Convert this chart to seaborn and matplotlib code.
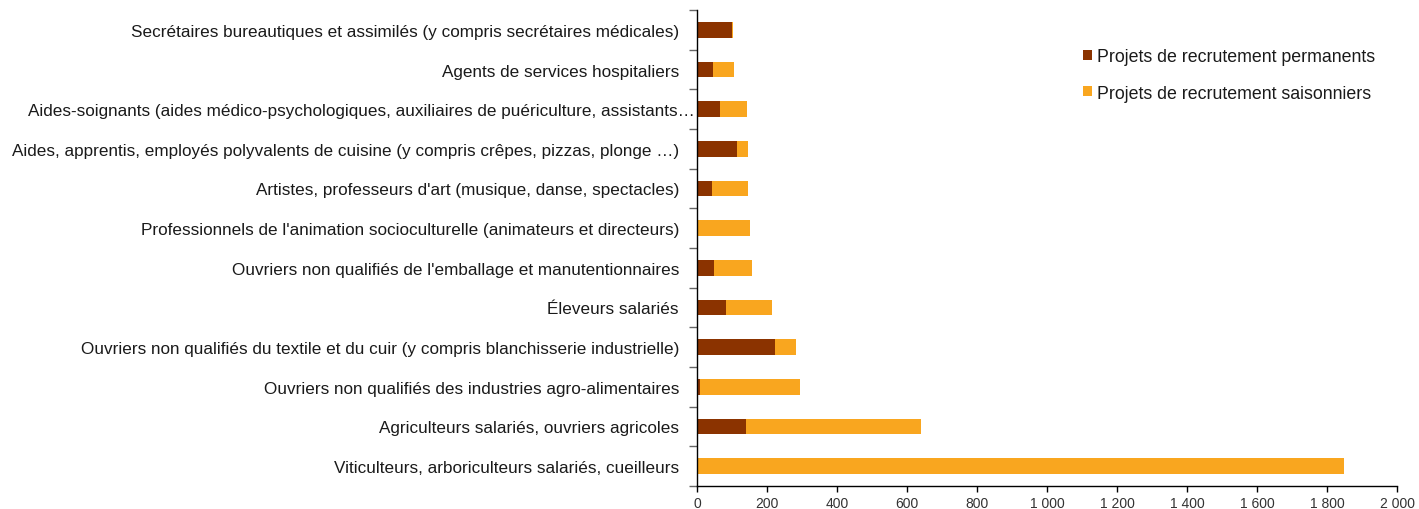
import matplotlib
matplotlib.use("Agg")
import matplotlib.pyplot as plt
import matplotlib.ticker as mticker
import matplotlib.transforms as mtransforms
from matplotlib.patches import Patch
import seaborn as sns
import pandas as pd
import numpy as np

categories = [
    "Secrétaires bureautiques et assimilés (y compris secrétaires médicales)",
    "Agents de services hospitaliers",
    "Aides-soignants (aides médico-psychologiques, auxiliaires de puériculture, assistants…",
    "Aides, apprentis, employés polyvalents de cuisine (y compris crêpes, pizzas, plonge …)",
    "Artistes, professeurs d'art (musique, danse, spectacles)",
    "Professionnels de l'animation socioculturelle (animateurs et directeurs)",
    "Ouvriers non qualifiés de l'emballage et manutentionnaires",
    "Éleveurs salariés",
    "Ouvriers non qualifiés du textile et du cuir (y compris blanchisserie industrielle)",
    "Ouvriers non qualifiés des industries agro-alimentaires",
    "Agriculteurs salariés, ouvriers agricoles",
    "Viticulteurs, arboriculteurs salariés, cueilleurs",
]
permanents = [100, 46, 65, 114, 44, 0, 48, 82, 223, 8, 140, 3]
saisonniers = [4, 61, 77, 31, 102, 151, 110, 131, 59, 287, 500, 1845]
series_names = ["Projets de recrutement permanents", "Projets de recrutement saisonniers"]
x_ticks = [0, 200, 400, 600, 800, 1000, 1200, 1400, 1600, 1800, 2000]

col_perm = "#8B3300"
col_seas = "#F9A61F"

plt.rcParams['font.family'] = ['Liberation Sans', 'DejaVu Sans']

df = pd.DataFrame({"cat": categories, "perm": permanents, "seas": saisonniers})
df["total"] = df["perm"] + df["seas"]

fig = plt.figure(figsize=(14.19, 5.10), dpi=100)
ax = fig.add_axes([697/1419, (510-487)/510, 700/1419, (487-11)/510])

sns.barplot(data=df, y="cat", x="total", color=col_seas, orient="h", width=0.4,
            saturation=1, ax=ax, order=categories)
sns.barplot(data=df, y="cat", x="perm", color=col_perm, orient="h", width=0.4,
            saturation=1, ax=ax, order=categories)

ax.set_xlim(0, 2000)
ax.set_ylim(len(categories) - 0.5, -0.5)
ax.set_xlabel("")
ax.set_ylabel("")
ax.set_xticks(x_ticks)
ax.xaxis.set_major_formatter(mticker.FuncFormatter(lambda v, p: f"{int(v):,}".replace(",", " ")))
ax.tick_params(axis='x', labelsize=10, length=4, width=1, colors="#000000", labelcolor="#333333", pad=3)
ax.set_yticks(np.arange(-0.5, len(categories) + 0.5, 1.0), minor=True)
ax.tick_params(axis='y', which='major', length=0, labelsize=12.3, labelcolor="#1a1a1a", pad=13)
ax.tick_params(axis='y', which='minor', length=5.5, width=1, color="#666666")

# the truncated label sits further right in the original
lbl = ax.get_yticklabels()[2]
lbl.set_transform(lbl.get_transform() + mtransforms.ScaledTranslation(16/100, 0, fig.dpi_scale_trans))

for s in ["top", "right"]:
    ax.spines[s].set_visible(False)
for s in ["left", "bottom"]:
    ax.spines[s].set_color("#000000")
    ax.spines[s].set_linewidth(1)
ax.grid(False)

handles = [Patch(facecolor=col_perm, edgecolor='none'), Patch(facecolor=col_seas, edgecolor='none')]
fig.legend(handles, series_names, loc="upper left", bbox_to_anchor=(1083/1419, 1 - 49/510),
           frameon=False, fontsize=12.8, handlelength=0.5, handleheight=0.5, handletextpad=0.3,
           labelspacing=1.1, labelcolor="#1a1a1a", borderaxespad=0, borderpad=0)

fig.savefig("out.png", dpi=100)
